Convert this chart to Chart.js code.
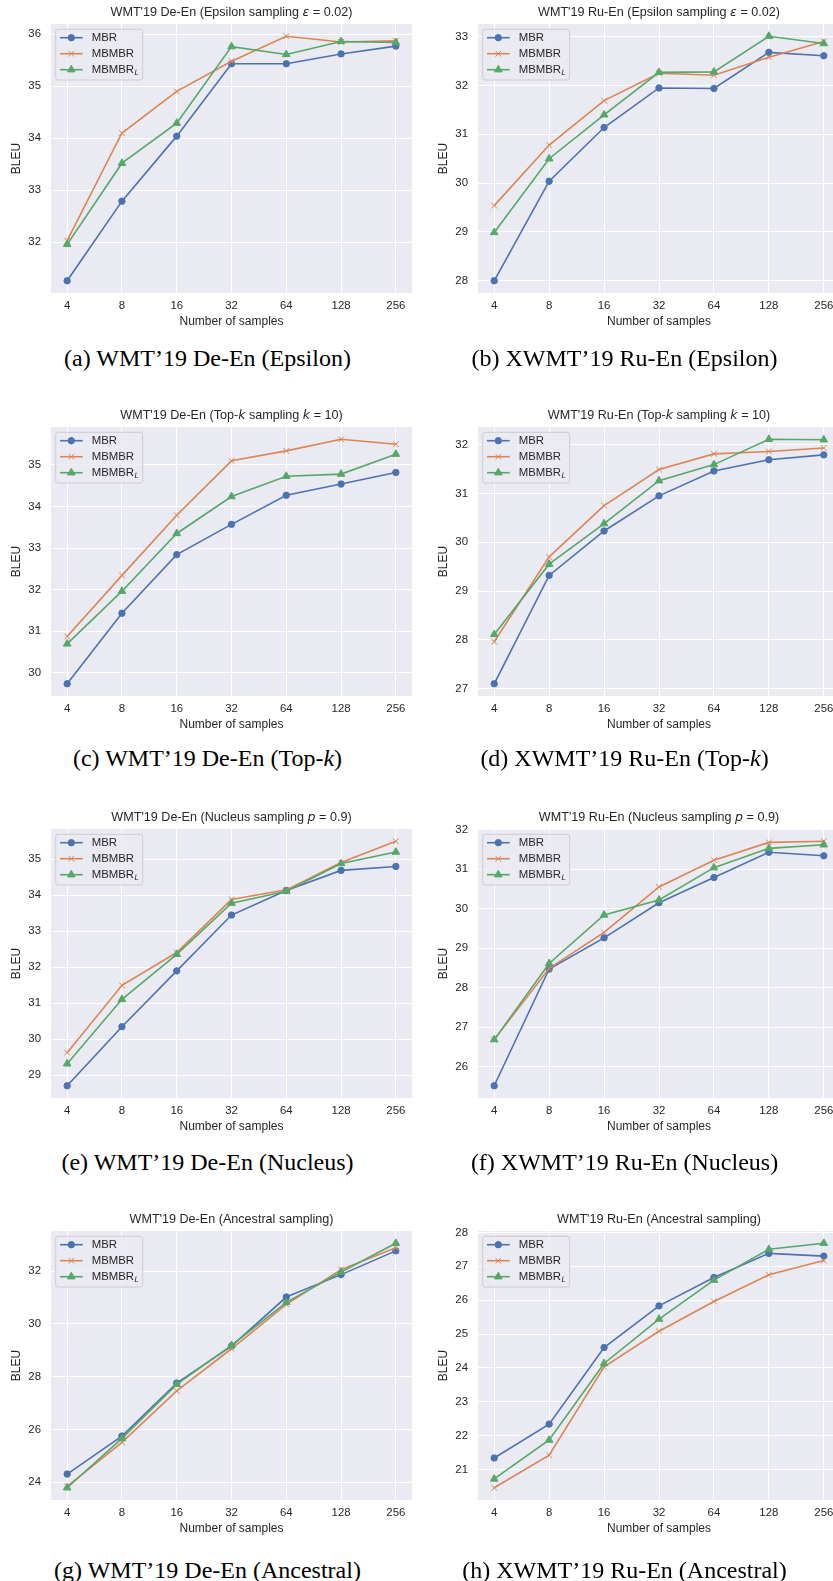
<!DOCTYPE html>
<html>
<head>
<meta charset="utf-8">
<script src="https://cdn.jsdelivr.net/npm/chart.js@4.4.1/dist/chart.umd.min.js"></script>
<style>
  body { margin: 0; width: 833px; height: 1581px; overflow: hidden; background: #fff; position: relative; }
  canvas { position: absolute; }
  .caption {
    position: absolute; width: 415px; text-align: center;
    font-family: "Liberation Serif", "Times New Roman", serif; font-size: 24px;
    line-height: 28px; color: #000; white-space: nowrap;
  }
</style>
</head>
<body>
<script>
const samples = [4, 8, 16, 32, 64, 128, 256];
const seriesLabels = ["MBR", "MBMBR", "MBMBR_L"];

// De-En / Ru-En, epsilon sampling
const epsDeMbr = [31.26, 32.79, 34.04, 35.43, 35.43, 35.62, 35.77];
const epsDeMbmbr = [32.03, 34.10, 34.90, 35.48, 35.96, 35.85, 35.87];
const epsDeMbmbrL = [31.96, 33.52, 34.29, 35.76, 35.61, 35.86, 35.84];
const epsRuMbr = [28.00, 30.04, 31.14, 31.95, 31.94, 32.68, 32.61];
const epsRuMbmbr = [29.54, 30.78, 31.69, 32.25, 32.21, 32.58, 32.90];
const epsRuMbmbrL = [28.99, 30.50, 31.40, 32.27, 32.28, 33.01, 32.86];

// top-k sampling
const topkDeMbr = [29.73, 31.43, 32.84, 33.57, 34.27, 34.54, 34.82];
const topkDeMbmbr = [30.87, 32.34, 33.79, 35.10, 35.34, 35.62, 35.50];
const topkDeMbmbrL = [30.69, 31.96, 33.35, 34.24, 34.73, 34.78, 35.26];
const topkRuMbr = [27.10, 29.32, 30.23, 30.95, 31.46, 31.69, 31.79];
const topkRuMbmbr = [27.96, 29.70, 30.75, 31.49, 31.81, 31.86, 31.93];
const topkRuMbmbrL = [28.11, 29.55, 30.38, 31.26, 31.59, 32.11, 32.10];

// nucleus sampling
const nucDeMbr = [28.71, 30.35, 31.90, 33.45, 34.13, 34.69, 34.80];
const nucDeMbmbr = [29.63, 31.50, 32.41, 33.88, 34.15, 34.91, 35.50];
const nucDeMbmbrL = [29.32, 31.11, 32.36, 33.78, 34.11, 34.88, 35.20];
const nucRuMbr = [25.51, 28.47, 29.26, 30.15, 30.79, 31.43, 31.34];
const nucRuMbmbr = [26.68, 28.49, 29.40, 30.55, 31.23, 31.68, 31.71];
const nucRuMbmbrL = [26.68, 28.61, 29.84, 30.22, 31.04, 31.53, 31.62];

// ancestral sampling
const ancDeMbr = [24.31, 25.75, 27.76, 29.16, 31.02, 31.87, 32.77];
const ancDeMbmbr = [23.84, 25.51, 27.46, 29.06, 30.74, 32.06, 32.89];
const ancDeMbmbrL = [23.79, 25.66, 27.71, 29.19, 30.82, 31.97, 33.06];
const ancRuMbr = [21.34, 22.34, 24.60, 25.83, 26.67, 27.38, 27.30];
const ancRuMbmbr = [20.46, 21.42, 24.03, 25.08, 25.96, 26.75, 27.17];
const ancRuMbmbrL = [20.72, 21.87, 24.13, 25.44, 26.59, 27.50, 27.68];

// y tick labels per panel
const ticksA = [32, 33, 34, 35, 36];
const ticksB = [28, 29, 30, 31, 32, 33];
const ticksC = [30, 31, 32, 33, 34, 35];
const ticksD = [27, 28, 29, 30, 31, 32];
const ticksE = [29, 30, 31, 32, 33, 34, 35];
const ticksF = [26, 27, 28, 29, 30, 31, 32];
const ticksG = [24, 26, 28, 30, 32];
const ticksH = [21, 22, 23, 24, 25, 26, 27, 28];

// titles: [text, italic] pieces
const titleA = [["WMT'19 De-En (Epsilon sampling ", false], ["ε", true], [" = 0.02)", false]];
const titleB = [["WMT'19 Ru-En (Epsilon sampling ", false], ["ε", true], [" = 0.02)", false]];
const titleC = [["WMT'19 De-En (Top-", false], ["k", true], [" sampling ", false], ["k", true], [" = 10)", false]];
const titleD = [["WMT'19 Ru-En (Top-", false], ["k", true], [" sampling ", false], ["k", true], [" = 10)", false]];
const titleE = [["WMT'19 De-En (Nucleus sampling ", false], ["p", true], [" = 0.9)", false]];
const titleF = [["WMT'19 Ru-En (Nucleus sampling ", false], ["p", true], [" = 0.9)", false]];
const titleG = [["WMT'19 De-En (Ancestral sampling)", false]];
const titleH = [["WMT'19 Ru-En (Ancestral sampling)", false]];

const captions = [
  "(a) WMT’19 De-En (Epsilon)", "(b) XWMT’19 Ru-En (Epsilon)",
  "(c) WMT’19 De-En (Top-<i>k</i>)", "(d) XWMT’19 Ru-En (Top-<i>k</i>)",
  "(e) WMT’19 De-En (Nucleus)", "(f) XWMT’19 Ru-En (Nucleus)",
  "(g) WMT’19 De-En (Ancestral)", "(h) XWMT’19 Ru-En (Ancestral)",
];

const panels = [
  { title: titleA, ticks: ticksA, series: [epsDeMbr, epsDeMbmbr, epsDeMbmbrL] },
  { title: titleB, ticks: ticksB, series: [epsRuMbr, epsRuMbmbr, epsRuMbmbrL] },
  { title: titleC, ticks: ticksC, series: [topkDeMbr, topkDeMbmbr, topkDeMbmbrL] },
  { title: titleD, ticks: ticksD, series: [topkRuMbr, topkRuMbmbr, topkRuMbmbrL] },
  { title: titleE, ticks: ticksE, series: [nucDeMbr, nucDeMbmbr, nucDeMbmbrL] },
  { title: titleF, ticks: ticksF, series: [nucRuMbr, nucRuMbmbr, nucRuMbmbrL] },
  { title: titleG, ticks: ticksG, series: [ancDeMbr, ancDeMbmbr, ancDeMbmbrL] },
  { title: titleH, ticks: ticksH, series: [ancRuMbr, ancRuMbmbr, ancRuMbmbrL] },
];

const colors = ["#4c72b0", "#dd8452", "#55a868"];
const markers = [
  { pointStyle: "circle", pointRadius: 3.2, pointBorderWidth: 1 },
  { pointStyle: "crossRot", pointRadius: 4, pointBorderWidth: 1 },
  { pointStyle: "triangle", pointRadius: 4.4, pointBorderWidth: 1 },
];

const sans = '"Liberation Sans", Arial, sans-serif';
const textColor = "#262626";
const rowTops = [24, 427, 829, 1231];
const captionY = [344, 744, 1148, 1556];
const plotH = 269;

Chart.defaults.font.family = sans;
Chart.defaults.color = textColor;

const facePlugin = {
  id: "face",
  beforeDraw(chart) {
    const { ctx, chartArea: a } = chart;
    ctx.save();
    ctx.fillStyle = "#eaeaf2";
    ctx.fillRect(a.left, a.top, a.right - a.left, a.bottom - a.top);
    ctx.restore();
  },
};

const titlePlugin = {
  id: "mixedTitle",
  afterDraw(chart) {
    const { ctx, chartArea: a } = chart;
    const parts = chart.options.plugins.mixedTitle.parts;
    const fontOf = (it) => (it ? 'italic 12.6px "DejaVu Sans"' : "12.6px " + sans);
    ctx.save();
    ctx.fillStyle = textColor;
    ctx.textBaseline = "middle";
    let total = 0;
    parts.forEach(([t, it]) => { ctx.font = fontOf(it); total += ctx.measureText(t).width; });
    let x = (a.left + a.right) / 2 - total / 2;
    parts.forEach(([t, it]) => {
      ctx.font = fontOf(it);
      ctx.fillText(t, x, a.top - 11);
      x += ctx.measureText(t).width;
    });
    ctx.restore();
  },
};

const legendPlugin = {
  id: "boxLegend",
  afterDatasetsDraw(chart) {
    const { ctx, chartArea: a } = chart;
    const bx = a.left + 4.7, by = a.top + 5.3;
    ctx.save();
    ctx.beginPath();
    ctx.roundRect(bx, by, 87, 50.7, 2.5);
    ctx.fillStyle = "rgba(234,234,242,0.8)";
    ctx.fill();
    ctx.strokeStyle = "#cccccc";
    ctx.lineWidth = 1;
    ctx.stroke();
    chart.data.datasets.forEach((ds, i) => {
      const cy = a.top + 13.7 + i * 16;
      ctx.strokeStyle = ds.borderColor;
      ctx.fillStyle = ds.backgroundColor;
      ctx.lineWidth = 1.6;
      ctx.beginPath();
      ctx.moveTo(a.left + 9, cy);
      ctx.lineTo(a.left + 31.7, cy);
      ctx.stroke();
      ctx.lineWidth = ds.pointBorderWidth;
      Chart.helpers.drawPoint(ctx, { pointStyle: ds.pointStyle, radius: ds.pointRadius, borderWidth: ds.pointBorderWidth, rotation: 0 }, a.left + 20.3, cy);
      const [main, sub] = seriesLabels[i].split("_");
      ctx.fillStyle = textColor;
      ctx.textBaseline = "middle";
      ctx.font = "11.4px " + sans;
      ctx.fillText(main, a.left + 40.7, cy);
      if (sub) {
        const w = ctx.measureText(main).width;
        ctx.font = 'italic 7.5px "DejaVu Sans"';
        ctx.fillText(sub, a.left + 40.7 + w + 0.3, cy + 3.5);
      }
    });
    ctx.restore();
  },
};

function makePanel(p, idx) {
  const col = idx % 2, row = Math.floor(idx / 2);
  const left = col === 0 ? 0 : 415;
  const width = col === 0 ? 420 : 440;
  const axisW = col === 0 ? 51 : 63;
  const padRight = col === 0 ? 8 : 15;
  const top = rowTops[row] - 24;
  const height = 24 + plotH + 45;

  const canvas = document.createElement("canvas");
  canvas.width = width;
  canvas.height = height;
  canvas.style.left = left + "px";
  canvas.style.top = top + "px";
  document.body.appendChild(canvas);

  // matplotlib-style 5% data margins
  const all = p.series.flat();
  const lo = Math.min(...all), hi = Math.max(...all);
  const m = (hi - lo) * 0.05;

  const datasets = p.series.map((vals, i) => ({
    label: seriesLabels[i],
    data: samples.map((s, j) => ({ x: Math.log2(s), y: vals[j] })),
    borderColor: colors[i],
    backgroundColor: colors[i],
    borderWidth: 1.6,
    order: 2 - i,
    ...markers[i],
  }));

  new Chart(canvas, {
    type: "line",
    data: { datasets },
    options: {
      responsive: false,
      animation: false,
      devicePixelRatio: 1,
      layout: { padding: { top: 24, right: padRight, left: 0, bottom: 0 } },
      plugins: {
        legend: { display: false },
        tooltip: { enabled: false },
        mixedTitle: { parts: p.title },
      },
      scales: {
        x: {
          type: "linear",
          min: 1.705,
          max: 8.295,
          afterBuildTicks: (s) => { s.ticks = samples.map((v) => ({ value: Math.log2(v) })); },
          afterFit: (s) => { s.height = 45; },
          grid: { color: "#ffffff", lineWidth: 1, drawTicks: false },
          border: { display: false },
          ticks: { font: { size: 11.4 }, padding: 6, maxRotation: 0, callback: (v) => String(2 ** v) },
          title: { display: true, text: "Number of samples", font: { size: 12 }, padding: { top: 0, bottom: 9 } },
        },
        y: {
          type: "linear",
          min: lo - m,
          max: hi + m,
          afterBuildTicks: (s) => { s.ticks = p.ticks.map((v) => ({ value: v })); },
          afterFit: (s) => { s.width = axisW; },
          grid: { color: "#ffffff", lineWidth: 1, drawTicks: false },
          border: { display: false },
          ticks: { font: { size: 11.4 }, padding: 10 },
          title: { display: true, text: "BLEU", font: { size: 12 }, padding: { top: axisW - 41.2, bottom: 0 } },
        },
      },
    },
    plugins: [facePlugin, titlePlugin, legendPlugin],
  });

  const cap = document.createElement("div");
  cap.className = "caption";
  cap.innerHTML = captions[idx];
  cap.style.left = (col === 0 ? 0 : 417) + "px";
  cap.style.top = captionY[row] + "px";
  document.body.appendChild(cap);
}

panels.forEach(makePanel);
</script>
</body>
</html>
